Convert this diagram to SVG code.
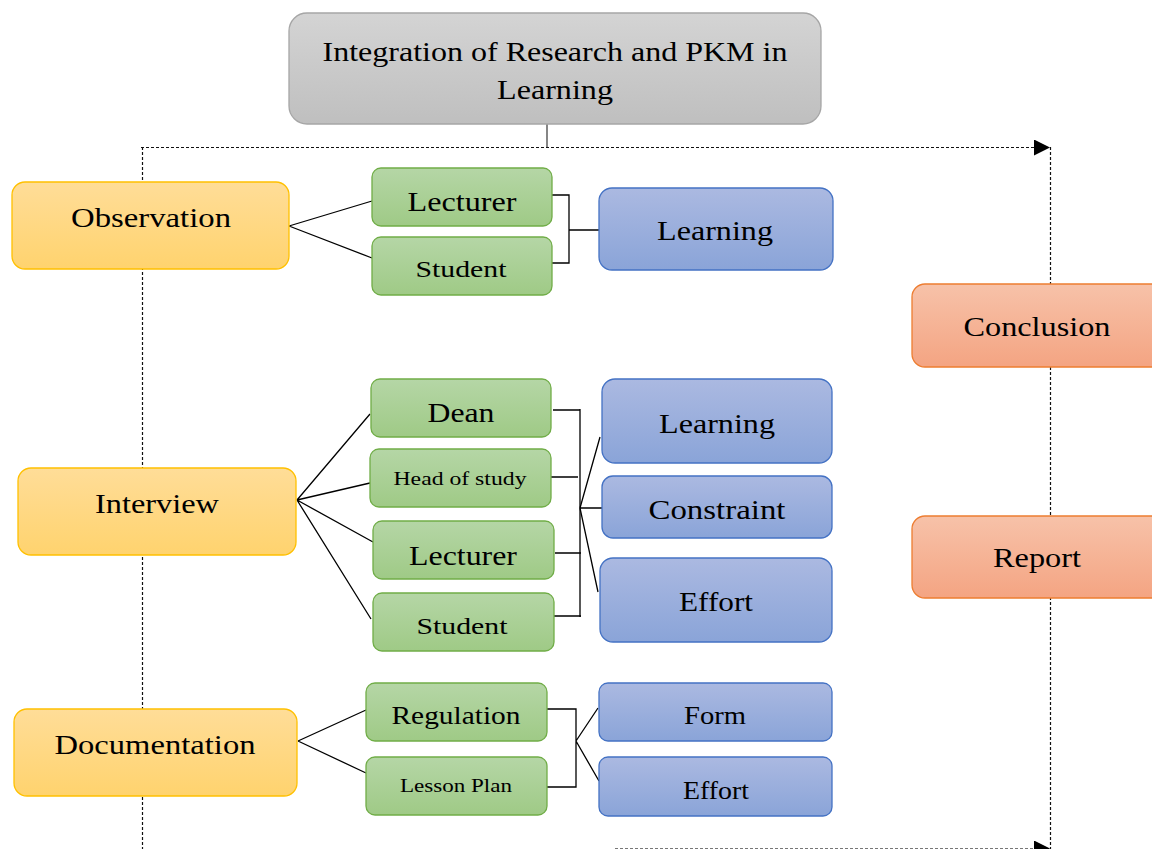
<svg xmlns="http://www.w3.org/2000/svg" width="1152" height="849" viewBox="0 0 1152 849">
<style>
text{font-family:"Liberation Serif","Times New Roman",serif;fill:#000;text-anchor:middle}
.gray{fill:url(#gGray);stroke:#a6a6a6;stroke-width:1.3}
.yel{fill:url(#gYel);stroke:#ffc000;stroke-width:1.3}
.grn{fill:url(#gGrn);stroke:#70ad47;stroke-width:1.3}
.blu{fill:url(#gBlu);stroke:#4472c4;stroke-width:1.3}
.org{fill:url(#gOrg);stroke:#ed7d31;stroke-width:1.3}
.ln{stroke:#000;stroke-width:1.3;fill:none}
.dot{stroke:#111;stroke-width:1.2;stroke-dasharray:3 2;fill:none}
</style>
<defs>
<linearGradient id="gGray" x1="0" y1="0" x2="0" y2="1"><stop offset="0" stop-color="#d4d4d4"/><stop offset="1" stop-color="#bfbfbf"/></linearGradient>
<linearGradient id="gYel" x1="0" y1="0" x2="0" y2="1"><stop offset="0" stop-color="#ffdd98"/><stop offset="1" stop-color="#ffd36e"/></linearGradient>
<linearGradient id="gGrn" x1="0" y1="0" x2="0" y2="1"><stop offset="0" stop-color="#b5d6a6"/><stop offset="1" stop-color="#9fca86"/></linearGradient>
<linearGradient id="gBlu" x1="0" y1="0" x2="0" y2="1"><stop offset="0" stop-color="#abb9e1"/><stop offset="1" stop-color="#8aa4d8"/></linearGradient>
<linearGradient id="gOrg" x1="0" y1="0" x2="0" y2="1"><stop offset="0" stop-color="#f7c2a9"/><stop offset="1" stop-color="#f4a482"/></linearGradient>
<marker id="arr" viewBox="0 0 16 16" refX="16" refY="8" markerWidth="16" markerHeight="16" markerUnits="userSpaceOnUse" orient="auto"><path d="M0,0 L16,8 L0,16 Z" fill="#000"/></marker>
</defs>

<g id="connectors">
<path class="dot" d="M141,147.5 H1050" marker-end="url(#arr)"/>
<path class="dot" d="M1050.5,147 V849"/>
<path class="dot" d="M142.5,147 V849"/>
<path class="dot" d="M615,848.5 H1050" marker-end="url(#arr)" style="stroke:#777"/>
<path class="ln" d="M547,124 V147" style="stroke:#444"/>
<path class="ln" d="M289,226 L372,201 M289,226 L372,258"/>
<path class="ln" d="M552,195 H569 V263 H552 M569,230 H599"/>
<path class="ln" d="M297,500 L370,414 M297,500 L370,483 M297,500 L373,542 M297,500 L371,619"/>
<path class="ln" d="M553,410 H580 M580,409 V617 M551,477 H578 M555,553 H581 M554,616 H581"/>
<path class="ln" d="M580,508 L600,437 M580,508 L602,508 M580,508 L598,592"/>
<path class="ln" d="M298,741 L366,710 M298,741 L366,773"/>
<path class="ln" d="M547,709 H576 V787 H547 M576,741 L598,708 M576,741 L599,781"/>
</g>

<g id="title"><rect class="gray" x="289" y="13" width="532" height="111" rx="18"/>
<text x="555" y="61" font-size="28" textLength="465" lengthAdjust="spacingAndGlyphs">Integration of Research and PKM in</text>
<text x="555" y="99" font-size="28" textLength="116" lengthAdjust="spacingAndGlyphs">Learning</text></g>

<g id="observation"><rect class="yel" x="12" y="182" width="277" height="87" rx="13"/>
<text x="151" y="227" font-size="28" textLength="160" lengthAdjust="spacingAndGlyphs">Observation</text></g>
<g id="obs-lecturer"><rect class="grn" x="372" y="168" width="180" height="58" rx="9"/>
<text x="462" y="211" font-size="27" textLength="109" lengthAdjust="spacingAndGlyphs">Lecturer</text></g>
<g id="obs-student"><rect class="grn" x="372" y="237" width="180" height="58" rx="9"/>
<text x="461" y="277" font-size="23" textLength="91" lengthAdjust="spacingAndGlyphs">Student</text></g>
<g id="obs-learning"><rect class="blu" x="599" y="188" width="234" height="82" rx="13"/>
<text x="715" y="240" font-size="28" textLength="116" lengthAdjust="spacingAndGlyphs">Learning</text></g>

<g id="conclusion"><rect class="org" x="912" y="284" width="260" height="83" rx="13"/>
<text x="1037" y="336" font-size="28" textLength="147" lengthAdjust="spacingAndGlyphs">Conclusion</text></g>
<g id="report"><rect class="org" x="912" y="516" width="260" height="82" rx="13"/>
<text x="1037" y="567" font-size="28" textLength="88" lengthAdjust="spacingAndGlyphs">Report</text></g>

<g id="interview"><rect class="yel" x="18" y="468" width="278" height="87" rx="13"/>
<text x="157" y="513" font-size="28" textLength="124" lengthAdjust="spacingAndGlyphs">Interview</text></g>
<g id="int-dean"><rect class="grn" x="371" y="379" width="180" height="58" rx="9"/>
<text x="461" y="422" font-size="27" textLength="67" lengthAdjust="spacingAndGlyphs">Dean</text></g>
<g id="int-head"><rect class="grn" x="370" y="449" width="181" height="58" rx="9"/>
<text x="460" y="485" font-size="19" textLength="133" lengthAdjust="spacingAndGlyphs">Head of study</text></g>
<g id="int-lecturer"><rect class="grn" x="373" y="521" width="181" height="58" rx="9"/>
<text x="463" y="565" font-size="27" textLength="108" lengthAdjust="spacingAndGlyphs">Lecturer</text></g>
<g id="int-student"><rect class="grn" x="373" y="593" width="181" height="58" rx="9"/>
<text x="462" y="634" font-size="23" textLength="91" lengthAdjust="spacingAndGlyphs">Student</text></g>
<g id="int-learning"><rect class="blu" x="602" y="379" width="230" height="84" rx="13"/>
<text x="717" y="433" font-size="28" textLength="116" lengthAdjust="spacingAndGlyphs">Learning</text></g>
<g id="int-constraint"><rect class="blu" x="602" y="476" width="230" height="62" rx="11"/>
<text x="717" y="519" font-size="28" textLength="137" lengthAdjust="spacingAndGlyphs">Constraint</text></g>
<g id="int-effort"><rect class="blu" x="600" y="558" width="232" height="84" rx="13"/>
<text x="716" y="611" font-size="28" textLength="74" lengthAdjust="spacingAndGlyphs">Effort</text></g>

<g id="documentation"><rect class="yel" x="14" y="709" width="283" height="87" rx="13"/>
<text x="155" y="754" font-size="28" textLength="201" lengthAdjust="spacingAndGlyphs">Documentation</text></g>
<g id="doc-regulation"><rect class="grn" x="366" y="683" width="181" height="58" rx="9"/>
<text x="456" y="724" font-size="25" textLength="129" lengthAdjust="spacingAndGlyphs">Regulation</text></g>
<g id="doc-lessonplan"><rect class="grn" x="366" y="757" width="181" height="58" rx="9"/>
<text x="456" y="792" font-size="19" textLength="112" lengthAdjust="spacingAndGlyphs">Lesson Plan</text></g>
<g id="doc-form"><rect class="blu" x="599" y="683" width="233" height="58" rx="9"/>
<text x="715" y="724" font-size="25" textLength="62" lengthAdjust="spacingAndGlyphs">Form</text></g>
<g id="doc-effort"><rect class="blu" x="599" y="757" width="233" height="59" rx="9"/>
<text x="716" y="799" font-size="25" textLength="66" lengthAdjust="spacingAndGlyphs">Effort</text></g>
</svg>
